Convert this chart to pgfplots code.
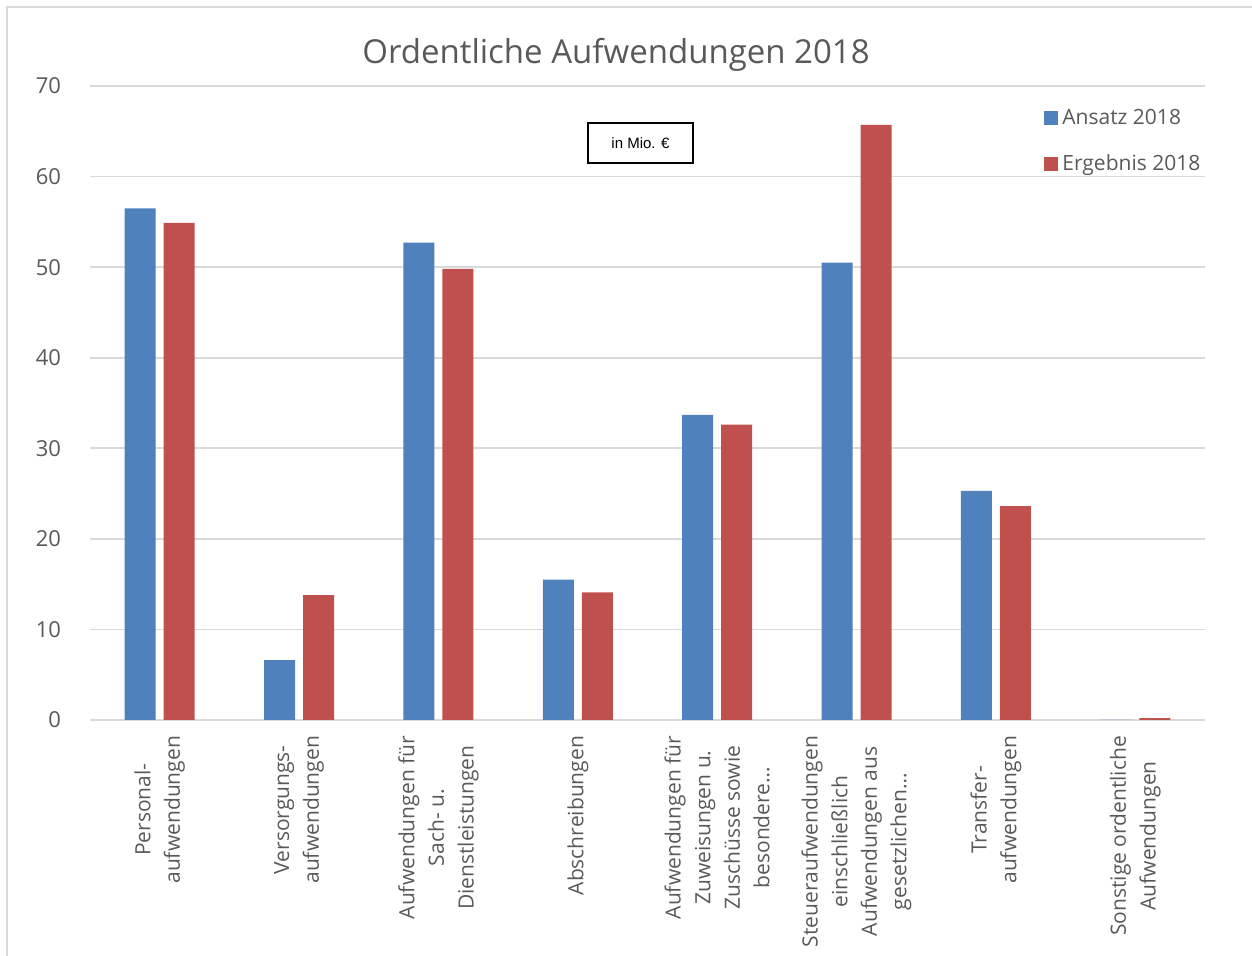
\documentclass[border=0pt]{standalone}
\usepackage{pgfplots}
\pgfplotsset{compat=1.18}
\usepackage{fontspec}
\setmainfont{Open Sans}
\newfontfamily\arialfont{Liberation Sans}
\definecolor{cblue}{HTML}{4F81BD}
\definecolor{cred}{HTML}{C0504D}
\definecolor{cgrid}{HTML}{D9D9D9}
\definecolor{ctext}{HTML}{595959}
\begin{document}
\begin{tikzpicture}
\path[use as bounding box] (0,0) rectangle (626pt,478pt);
\draw[cgrid, line width=0.8pt] (3.5pt,-20pt) -- (3.5pt,474.5pt) -- (660pt,474.5pt);
\begin{axis}[
  at={(45pt,118pt)}, anchor=south west,
  scale only axis, width=557.5pt, height=317pt,
  ybar=4pt, bar width=15.5pt,
  xmin=-0.5, xmax=7.5, ymin=0, ymax=70,
  ytick={0,10,20,30,40,50,60,70},
  xtick={0,1,2,3,4,5,6,7},
  xticklabels={
    {Personal-\\aufwendungen},
    {Versorgungs-\\aufwendungen},
    {Aufwendungen für\\Sach- u.\\Dienstleistungen},
    {Abschreibungen},
    {Aufwendungen für\\Zuweisungen u.\\Zuschüsse sowie\\besondere…},
    {Steueraufwendungen\\einschließlich\\Aufwendungen aus\\gesetzlichen…},
    {Transfer-\\aufwendungen},
    {Sonstige ordentliche\\Aufwendungen}},
  xticklabel style={rotate=90, anchor=east, align=center, font=\fontsize{10.5}{14.8}\selectfont, text=ctext, xshift=-4.5pt},
  yticklabel style={font=\fontsize{11}{13}\selectfont, text=ctext, xshift=-11pt},
  /pgf/number format/assume math mode=true,
  major tick length=0pt,
  ymajorgrids, grid style={cgrid, line width=0.8pt},
  axis x line*=bottom, axis y line*=left,
  x axis line style={cgrid, line width=0.8pt, -},
  y axis line style={draw=none},
  legend style={at={(rel axis cs:0.8556,0.971)}, anchor=north west, draw=none, fill=none,
    font=\fontsize{10.5}{12}\selectfont, text=ctext, row sep=10pt, inner sep=0pt},
  legend cell align=left,
  legend image code/.code={\fill[#1] (0pt,-3.5pt) rectangle (7pt,3.5pt);},
]
\addplot[fill=cblue, draw=none] coordinates {(0,56.5) (1,6.6) (2,52.7) (3,15.5) (4,33.7) (5,50.5) (6,25.3) (7,0)};
\addplot[fill=cred, draw=none] coordinates {(0,54.9) (1,13.8) (2,49.8) (3,14.1) (4,32.6) (5,65.7) (6,23.6) (7,0.2)};
\legend{Ansatz 2018, Ergebnis 2018}
\end{axis}
\node[text=ctext, font=\fontsize{16.5}{20}\selectfont] at (308pt,450.5pt) {Ordentliche Aufwendungen 2018};
\node[draw=black, line width=0.9pt, minimum width=52.5pt, minimum height=20pt, inner sep=0pt, font=\arialfont\fontsize{7.5}{9}\selectfont] at (320.25pt,406.5pt) {in Mio. €};
\end{tikzpicture}
\end{document}
